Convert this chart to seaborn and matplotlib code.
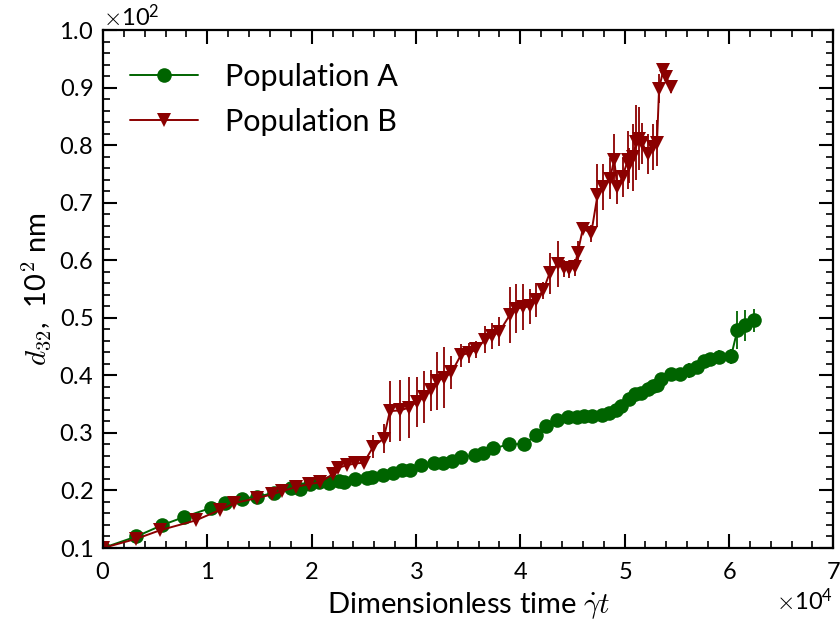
# d32 growth of two droplet populations vs dimensionless time

import numpy as np
import pandas as pd
import matplotlib
matplotlib.use("Agg")
import matplotlib.pyplot as plt
import seaborn as sns
from matplotlib.ticker import MultipleLocator


# Data (time in gamma_dot*t, d32 in nm)

t_a = [0, 3200, 5700, 7800, 10400, 11700, 13300, 14800, 16400, 18000,
       18900, 19800, 20700, 21700, 22600, 23100, 24200, 25300, 25800, 26800,
       27800, 28700, 29400, 30500, 31700, 32600, 33500, 34300, 35700, 36400,
       37400, 38900, 40400, 41500, 42500, 43500, 44600, 45400, 46100, 46900,
       47800, 48500, 49200, 49700, 50400, 51000, 51600, 52200, 52700, 53100,
       53500, 54400, 55300, 56200, 56900, 57600, 58200, 59000, 60200, 60800,
       61500, 62400]
d_a = [10.0, 12.0, 14.0, 15.4, 17.0, 17.8, 18.6, 18.9, 19.6, 20.5,
       20.2, 21.1, 21.5, 21.3, 21.6, 21.5, 22.0, 22.2, 22.4, 22.7,
       23.0, 23.5, 23.6, 24.4, 24.8, 24.8, 25.1, 25.8, 26.1, 26.5,
       27.3, 28.0, 28.1, 29.6, 31.2, 32.3, 32.7, 32.7, 32.9, 32.9,
       33.1, 33.4, 34.0, 34.7, 35.9, 36.7, 36.9, 37.7, 38.1, 38.3,
       39.3, 40.2, 40.3, 40.9, 41.4, 42.5, 42.8, 43.2, 43.3, 47.8,
       48.7, 49.6]
err_a = [0.3, 0.3, 0.3, 0.3, 0.3, 0.3, 0.3, 0.3, 0.3, 0.3,
         0.3, 0.3, 0.3, 0.3, 0.3, 0.3, 0.3, 0.3, 0.3, 0.3,
         0.3, 0.3, 0.3, 0.3, 0.3, 0.3, 0.3, 0.3, 0.3, 0.3,
         0.3, 0.3, 0.4, 0.8, 0.5, 0.4, 0.4, 0.4, 0.4, 0.4,
         0.4, 0.4, 0.4, 0.6, 0.5, 0.5, 0.5, 0.5, 0.5, 0.5,
         0.6, 0.8, 0.6, 1.3, 0.8, 1.0, 0.8, 1.2, 1.3, 3.3,
         2.7, 2.0]

t_b = [0, 3200, 5500, 8900, 11200, 12600, 14800, 16200, 17200, 18500,
       19700, 20800, 22000, 22500, 23400, 24200, 25000, 25900, 26900, 27500,
       28500, 29300, 30100, 30800, 31400, 32000, 32700, 33400, 34300, 35100,
       35800, 36600, 37300, 38000, 39000, 39600, 40300, 40900, 41500, 42200,
       42800, 43600, 44200, 44700, 45200, 45500, 46000, 46800, 47400, 47900,
       48600, 49000, 49300, 49800, 50300, 50400, 50800, 51100, 51400, 51700,
       52200, 52700, 53100, 53300, 53700, 54000, 54400]
d_b = [10.0, 11.6, 13.1, 14.8, 16.6, 17.8, 18.7, 19.3, 19.9, 20.6,
       21.1, 21.4, 22.8, 23.9, 24.4, 24.7, 24.8, 27.6, 29.0, 33.8,
       33.9, 34.4, 35.4, 36.3, 37.4, 39.0, 39.6, 40.5, 43.5, 43.9,
       44.5, 46.2, 46.8, 47.6, 50.5, 51.6, 51.8, 52.0, 53.1, 54.8,
       57.7, 59.4, 58.6, 58.4, 58.8, 61.3, 65.5, 64.7, 71.3, 72.8,
       74.2, 77.5, 72.7, 74.5, 77.4, 76.5, 77.9, 80.5, 81.1, 80.3,
       78.5, 79.7, 80.3, 89.8, 93.0, 91.9, 90.1]
err_b = [0.3, 0.3, 0.3, 0.3, 0.3, 0.3, 0.3, 0.3, 0.3, 0.3,
         0.4, 0.4, 0.8, 0.8, 0.6, 0.6, 0.6, 2.0, 2.5, 5.3,
         5.3, 5.3, 4.3, 4.5, 3.6, 5.1, 5.3, 2.9, 2.0, 1.8,
         1.5, 2.3, 2.3, 2.5, 4.8, 4.3, 4.0, 3.0, 3.0, 1.5,
         3.6, 4.0, 1.5, 1.5, 1.5, 2.0, 1.0, 1.5, 5.5, 4.0,
         3.5, 4.5, 3.0, 3.5, 5.0, 3.0, 5.8, 6.5, 5.5, 3.5,
         3.5, 4.0, 4.0, 2.5, 1.2, 1.0, 1.0]

labels = ["Population A", "Population B"]
colors = {"Population A": "#006400", "Population B": "#8b0000"}
markers = {"Population A": "o", "Population B": "v"}

df = pd.concat([
    pd.DataFrame({"t": t_a, "d32": d_a, "err": err_a, "Population": labels[0]}),
    pd.DataFrame({"t": t_b, "d32": d_b, "err": err_b, "Population": labels[1]}),
], ignore_index=True)


# Style

sns.set_style("ticks")
plt.rcParams["font.family"] = ["Lato", "DejaVu Sans"]
plt.rcParams["font.weight"] = "normal"
plt.rcParams["mathtext.fontset"] = "cm"
plt.rcParams["text.color"] = "black"
plt.rcParams["axes.labelcolor"] = "black"
plt.rcParams["xtick.color"] = "black"
plt.rcParams["ytick.color"] = "black"
plt.rcParams["axes.edgecolor"] = "black"


# Plot

fig, ax = plt.subplots(figsize=(8.4, 6.26), dpi=100)
fig.subplots_adjust(left=0.1226, right=0.992, top=0.952, bottom=0.1246)

for name in labels:
    sub = df[df["Population"] == name]
    ax.errorbar(sub["t"], sub["d32"], yerr=sub["err"], fmt="none",
                ecolor=colors[name], elinewidth=1.3, capsize=0, zorder=1)

sns.lineplot(data=df, x="t", y="d32", hue="Population", style="Population",
             markers=markers, dashes=False, palette=colors, estimator=None,
             sort=False, markersize=10.5, linewidth=1.4, markeredgewidth=0,
             ax=ax, zorder=2)

handles, lbls = ax.get_legend_handles_labels()
ax.legend(handles, lbls, loc="upper left", frameon=False, fontsize=22,
          handlelength=2.2, handletextpad=0.9, borderaxespad=0.5,
          labelspacing=0.55, bbox_to_anchor=(0.0, 0.99))

ax.set_xlim(0, 70000)
ax.set_ylim(10, 100)
ax.xaxis.set_major_locator(MultipleLocator(10000))
ax.xaxis.set_minor_locator(MultipleLocator(2000))
ax.yaxis.set_major_locator(MultipleLocator(10))
ax.yaxis.set_minor_locator(MultipleLocator(2))
ax.ticklabel_format(axis="both", style="sci", scilimits=(0, 0), useMathText=True)

ax.tick_params(which="both", direction="in", top=True, right=True, labelsize=17)
ax.tick_params(which="major", length=10, width=1.5, pad=7)
ax.tick_params(axis="x", which="major", pad=10)
ax.tick_params(which="minor", length=5, width=1.2)
ax.xaxis.get_offset_text().set_fontsize(17)
ax.yaxis.get_offset_text().set_fontsize(17)
for sp in ax.spines.values():
    sp.set_linewidth(1.6)

ax.set_xlabel(r"Dimensionless time $\dot{\gamma}t$", fontsize=21, labelpad=5)
ax.set_ylabel(r"$d_{32}$,  10$^2$ nm", fontsize=21)

plt.savefig("out.png", dpi=100)
